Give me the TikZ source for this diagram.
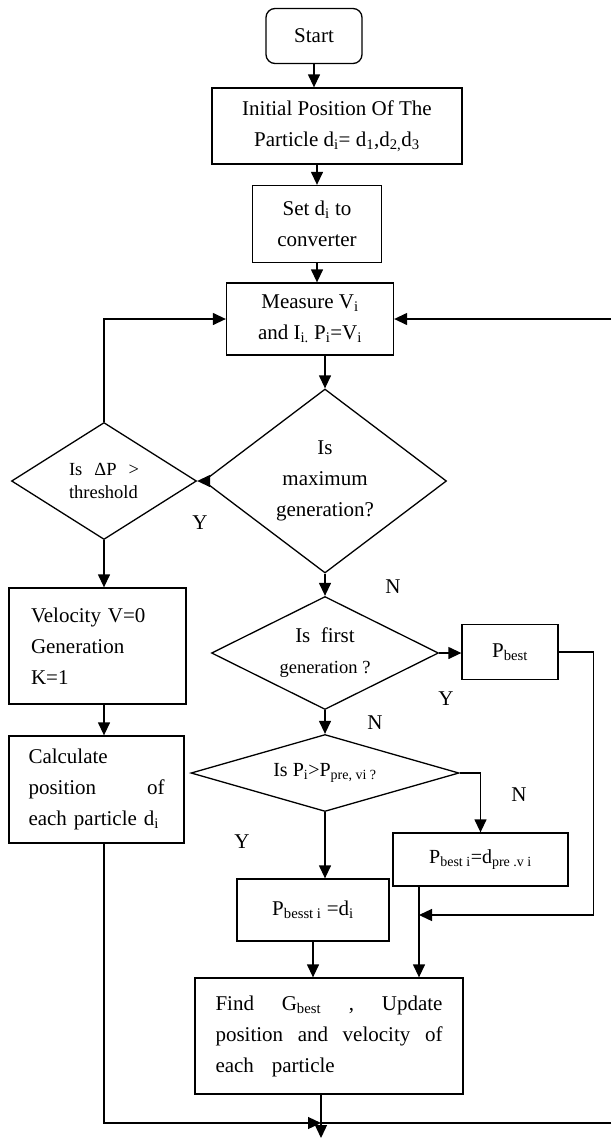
\documentclass[tikz,border=0pt]{standalone}
\usepackage{fontspec}
\setmainfont{Liberation Serif}
\usetikzlibrary{shapes.geometric,arrows.meta,positioning,calc}
\newcommand{\fbig}{\fontsize{21}{31}\selectfont}
\newcommand{\fmid}{\fontsize{18.5}{23}\selectfont}
\newcommand{\fpi}{\fontsize{20}{24}\selectfont}

\begin{document}
\begin{tikzpicture}[x=1pt, y=-1pt, line width=1.3pt,
    box/.style={draw, rectangle, inner sep=0pt, font=\fbig, align=center},
    startbox/.style={box, rounded corners=9pt},
    dec/.style={draw, diamond, inner sep=0pt, font=\fbig, align=center},
    lbl/.style={font=\fbig, inner sep=0pt},
    >={Triangle[length=13pt, width=12pt]}
]
\useasboundingbox (0,0) rectangle (611,1138);

% main column
\node[startbox, minimum width=96pt, minimum height=55pt] (start) at (314,36) {Start};
\node[box, minimum width=250pt, minimum height=76pt] (init) at (337,126)
    {Initial Position Of The\\Particle d\textsubscript{i}= d\textsubscript{1},d\textsubscript{2,}d\textsubscript{3}};
\node[box, minimum width=129pt, minimum height=77pt] (setd) at (317,224) {Set d\textsubscript{i} to\\converter};
\node[box, minimum width=167pt, minimum height=72pt] (meas) at (310,319)
    {Measure V\textsubscript{i}\\and I\textsubscript{i.} P\textsubscript{i}=V\textsubscript{i}};
\node[dec, minimum width=243pt, minimum height=184pt, aspect=1.3] (maxg) at (325,481) {Is\\maximum\\generation?};
\node[dec, minimum width=227pt, minimum height=113pt, aspect=2] (first) at (325,653) {Is~ first\\{\fmid generation ?}};
\node[dec, font=\fpi, minimum width=268pt, minimum height=77pt, aspect=3.5] (pig) at (325,773)
    {Is P\textsubscript{i}>P\textsubscript{pre, vi ?}};

% left column
\node[dec, font=\fmid, text width=70pt, align=left, minimum width=185pt, minimum height=117pt, aspect=1.6] (dp) at (104,481)
    {Is\hfill ΔP\hfill >\\threshold};
\node[box, minimum width=177pt, minimum height=116pt, text width=133pt, align=left] (vel) at (97.5,646)
    {Velocity V=0\\Generation\\K=1};
\node[box, minimum width=175pt, minimum height=107pt, text width=136pt, align=left] (calc) at (96.5,789.5)
    {Calculate\\position\hfill of\\each particle d\textsubscript{i}};

% right side and bottom
\node[box, minimum width=96pt, minimum height=55pt] (pb) at (510,652) {P\textsubscript{best}};
\node[box, font=\fpi, minimum width=175pt, minimum height=53pt] (pbi) at (480.5,859.5)
    {P\textsubscript{best i}=d\textsubscript{pre .v i}};
\node[box, minimum width=152pt, minimum height=62pt] (pbs) at (313,910) {P\textsubscript{besst i} =d\textsubscript{i}};
\node[box, minimum width=268pt, minimum height=116pt, text width=227pt, align=left] (find) at (329,1036)
    {Find\hfill G\textsubscript{best}\hfill ,\hfill Update\\position\hfill and\hfill velocity\hfill of\\each\hspace{0.85em}particle};

\coordinate (edgeT) at (611,319);
\coordinate (edgeB) at (611,1123);
\coordinate (join) at (321,1123);
\coordinate (stop) at (321,1138);
\coordinate (merge) at (419,915);

% yes / no labels
\node[lbl] (ymax) at (200,523) {Y};
\node[lbl] (nmax) at (393,587) {N};
\node[lbl] (yfirst) at (446,699) {Y};
\node[lbl] (nfirst) at (375,723) {N};
\node[lbl] (npi) at (519,795) {N};
\node[lbl] (ypi) at (242,842) {Y};

% connections
\draw[->] (start.south) -- (start.south |- init.north);
\draw[->] (init.south -| setd.north) -- (setd.north);
\draw[->] (setd.south) -- (setd.south |- meas.north);
\draw[->] (meas.south -| maxg.north) -- (maxg.north);
\draw[->] (maxg.west) -- (dp.east);
\draw[->] (dp.north) |- (meas.west);
\draw[->] (edgeT) -- (meas.east);
\draw[->] (dp.south) -- (dp.south |- vel.north);
\draw[->] (vel.south -| dp.south) -- (dp.south |- calc.north);
\draw[->] (calc.south -| dp.south) |- (join);
\draw[->] (maxg.south) -- (first.north);
\draw[->] (first.east) -- (first.east -| pb.west);
\draw[->] (first.south) -- (pig.north);
\draw[->] (pig.east) -| (pbi.north);
\draw[->] (pig.south) -- (pig.south |- pbs.north);
\draw[->] (pbs.south) -- (pbs.south |- find.north);
\draw[->] (pbi.south -| merge) -- (merge |- find.north);
\draw[->] (pb.east) -- ++(35,0) |- (merge);
\draw[->] (find.south -| stop) -- (stop);
\draw (edgeB) -- (join);
\end{tikzpicture}
\end{document}
